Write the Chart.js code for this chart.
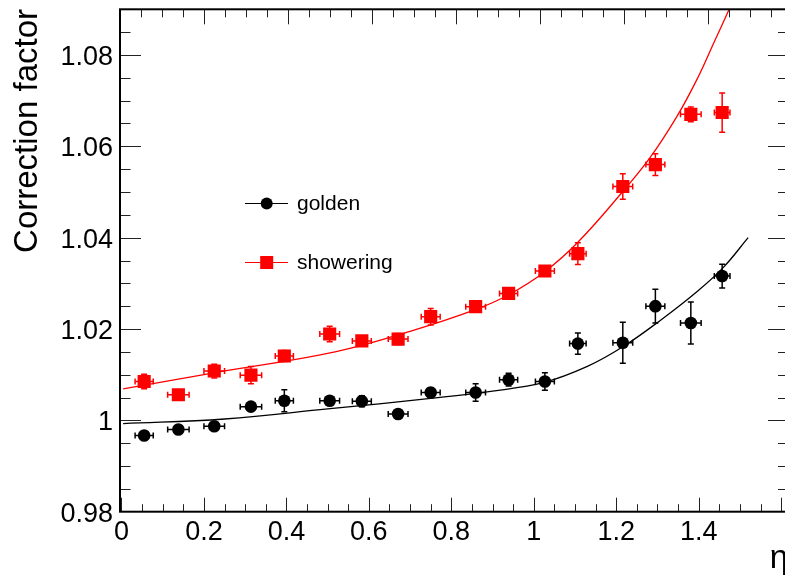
<!DOCTYPE html>
<html>
<head>
<meta charset="utf-8">
<script src="https://cdn.jsdelivr.net/npm/chart.js@4.4.1/dist/chart.umd.min.js"></script>
<style>
  html, body { margin: 0; padding: 0; background: #fff; overflow: hidden; }
  #wrap { position: relative; width: 800px; height: 576px; }
</style>
</head>
<body>
<div id="wrap"><canvas id="corrChart"></canvas></div>
<script>
// eta bin centres and half widths
const etaCenters = [0.055, 0.138, 0.225, 0.314, 0.395, 0.505, 0.583, 0.671, 0.750, 0.859, 0.939, 1.027, 1.107, 1.216, 1.295, 1.381, 1.457];
const etaHalfWidth = [0.022, 0.026, 0.025, 0.026, 0.022, 0.024, 0.023, 0.024, 0.023, 0.024, 0.022, 0.023, 0.020, 0.024, 0.023, 0.025, 0.019];

// golden electrons
const goldenVals = [0.9967, 0.9980, 0.9987, 1.0030, 1.0043, 1.0043, 1.0042, 1.0014, 1.0061, 1.0061, 1.0089, 1.0085, 1.0168, 1.0170, 1.0250, 1.0213, 1.0316];
const goldenErr = [0.0008, 0.0008, 0.0008, 0.0009, 0.0024, 0.0008, 0.0012, 0.0009, 0.0010, 0.0019, 0.0014, 0.0019, 0.0023, 0.0045, 0.0037, 0.0046, 0.0026];

// showering electrons
const showerVals = [1.0085, 1.0056, 1.0108, 1.0099, 1.0141, 1.0189, 1.0174, 1.0178, 1.0227, 1.0249, 1.0278, 1.0327, 1.0365, 1.0512, 1.0560, 1.0670, 1.0674];
const showerErr = [0.0016, 0.0008, 0.0015, 0.0019, 0.0012, 0.0017, 0.0010, 0.0012, 0.0018, 0.0012, 0.0008, 0.0011, 0.0024, 0.0028, 0.0024, 0.0016, 0.0043];

// fitted curves
const fitEtaGolden = [0.004, 0.25, 0.50, 0.75, 0.90, 1.025, 1.13, 1.216, 1.31, 1.40, 1.46, 1.52];
const fitGolden = [0.9993, 1.0003, 1.0025, 1.0048, 1.0064, 1.0083, 1.0118, 1.0161, 1.0221, 1.0285, 1.0335, 1.0400];
const fitEtaShower = [0.004, 0.224, 0.518, 0.70, 0.86, 0.939, 1.026, 1.107, 1.216, 1.282, 1.347, 1.395, 1.436, 1.474];
const fitShower = [1.0069, 1.0104, 1.0150, 1.0195, 1.0243, 1.0275, 1.0325, 1.0390, 1.0501, 1.0575, 1.0665, 1.0745, 1.0825, 1.0900];

const xTicks = [0, 0.2, 0.4, 0.6, 0.8, 1, 1.2, 1.4];
const yTicks = [0.98, 1, 1.02, 1.04, 1.06, 1.08];

const FONT = '"Liberation Sans", Arial, Helvetica, sans-serif';
const RED = '#ff0000';

const toPoints = (xs, ys) => xs.map((v, i) => ({ x: v, y: ys[i] }));
const fmt = v => String(Math.round(v * 100) / 100);

// ROOT style frame with inward ticks on all four sides
const frameTicks = {
  id: 'frameTicks',
  afterDraw(chart) {
    const { ctx, chartArea: a, scales } = chart;
    const sx = scales.x, sx2 = scales.x2, sy = scales.y;
    const snap = p => Math.round(p) + 0.5;
    ctx.save();
    ctx.strokeStyle = '#222';
    ctx.lineWidth = 1;
    ctx.beginPath();
    for (let i = 0; i <= 34; i++) {
      const v = i * 0.05;
      const major = i % 4 === 0;
      const pb = sx.getPixelForValue(v);
      if (pb >= a.left - 1 && pb <= a.right) {
        ctx.moveTo(snap(pb), a.bottom);
        ctx.lineTo(snap(pb), a.bottom - (major ? 14 : 7.5));
      }
      const pt = sx2.getPixelForValue(v);
      if (pt >= a.left - 1 && pt <= a.right) {
        ctx.moveTo(snap(pt), a.top);
        ctx.lineTo(snap(pt), a.top + (major ? 15 : 8));
      }
    }
    for (let i = 0; i <= 22; i++) {
      const v = 0.98 + i * 0.005;
      const major = i % 4 === 0;
      const py = snap(sy.getPixelForValue(v));
      if (py < a.top || py > a.bottom) continue;
      ctx.moveTo(a.left, py);
      ctx.lineTo(a.left + (major ? 21 : 10.5), py);
      ctx.moveTo(a.right, py);
      ctx.lineTo(a.right - (major ? 20 : 10), py);
    }
    ctx.stroke();

    ctx.strokeStyle = '#000';
    ctx.lineWidth = 2;
    ctx.strokeRect(a.left, a.top, a.right - a.left, a.bottom - a.top);

    // axis titles
    ctx.fillStyle = '#000';
    ctx.font = '33px ' + FONT;
    ctx.textAlign = 'right';
    ctx.textBaseline = 'alphabetic';
    ctx.save();
    ctx.translate(37, 9);
    ctx.rotate(-Math.PI / 2);
    ctx.fillText('Correction factor', 0, 0);
    ctx.restore();
    ctx.fillText('\u03B7', a.right, 568);

    // legend
    const entries = [
      { label: 'golden', color: '#000', style: 'circle', y: 203.5 },
      { label: 'showering', color: RED, style: 'rect', y: 262.5 }
    ];
    ctx.font = '21px ' + FONT;
    ctx.textAlign = 'left';
    ctx.textBaseline = 'middle';
    entries.forEach(e => {
      ctx.strokeStyle = e.color;
      ctx.lineWidth = 1.2;
      ctx.beginPath();
      ctx.moveTo(245, e.y);
      ctx.lineTo(288, e.y);
      ctx.stroke();
      ctx.fillStyle = e.color;
      if (e.style === 'circle') {
        ctx.beginPath();
        ctx.arc(266.7, e.y, 6, 0, Math.PI * 2);
        ctx.fill();
      } else {
        ctx.fillRect(266.7 - 6.5, e.y - 6.5, 13, 13);
      }
      ctx.fillStyle = '#000';
      ctx.fillText(e.label, 297, e.y + 1);
    });
    ctx.restore();
  }
};

// error bars with end caps, drawn below the markers
function drawErrors(ctx, sx, sy, ys, yErr, color) {
  ctx.strokeStyle = color;
  ctx.lineWidth = 1.5;
  ctx.beginPath();
  etaCenters.forEach((ex, i) => {
    const px = sx.getPixelForValue(ex);
    const py = sy.getPixelForValue(ys[i]);
    const xl = sx.getPixelForValue(ex - etaHalfWidth[i]);
    const xr = sx.getPixelForValue(ex + etaHalfWidth[i]);
    const yt = sy.getPixelForValue(ys[i] + yErr[i]);
    const yb = sy.getPixelForValue(ys[i] - yErr[i]);
    ctx.moveTo(xl, py); ctx.lineTo(xr, py);
    ctx.moveTo(xl, py - 3); ctx.lineTo(xl, py + 3);
    ctx.moveTo(xr, py - 3); ctx.lineTo(xr, py + 3);
    ctx.moveTo(px, yt); ctx.lineTo(px, yb);
    ctx.moveTo(px - 3, yt); ctx.lineTo(px + 3, yt);
    ctx.moveTo(px - 3, yb); ctx.lineTo(px + 3, yb);
  });
  ctx.stroke();
}

const errorBars = {
  id: 'errorBars',
  beforeDatasetsDraw(chart) {
    const { ctx, chartArea: a, scales } = chart;
    ctx.save();
    ctx.beginPath();
    ctx.rect(a.left, a.top, a.right - a.left, a.bottom - a.top);
    ctx.clip();
    drawErrors(ctx, scales.x, scales.y, goldenVals, goldenErr, '#000');
    drawErrors(ctx, scales.x, scales.y, showerVals, showerErr, RED);
    ctx.restore();
  }
};

// keep the frame exactly where the reference has it
const noPad = s => { s.paddingTop = 0; s.paddingBottom = 0; s.paddingLeft = 0; s.paddingRight = 0; };

const ctx = document.getElementById('corrChart').getContext('2d');
new Chart(ctx, {
  type: 'scatter',
  data: {
    datasets: [
      {
        label: 'golden',
        data: toPoints(etaCenters, goldenVals),
        pointStyle: 'circle',
        pointRadius: 6.3,
        backgroundColor: '#000',
        borderWidth: 0,
        showLine: false
      },
      {
        label: 'showering',
        data: toPoints(etaCenters, showerVals),
        pointStyle: 'rect',
        pointRadius: 9.3,
        backgroundColor: RED,
        borderWidth: 0,
        showLine: false
      },
      {
        label: 'golden fit',
        data: toPoints(fitEtaGolden, fitGolden),
        showLine: true,
        borderColor: '#000',
        borderWidth: 1.3,
        pointRadius: 0,
        tension: 0.4,
        fill: false
      },
      {
        label: 'showering fit',
        data: toPoints(fitEtaShower, fitShower),
        showLine: true,
        borderColor: RED,
        borderWidth: 1.3,
        pointRadius: 0,
        tension: 0.4,
        fill: false
      }
    ]
  },
  options: {
    responsive: true,
    maintainAspectRatio: false,
    animation: false,
    layout: { padding: { left: 0, top: 6.7, right: 12, bottom: 0 } },
    plugins: { legend: { display: false }, tooltip: { enabled: false } },
    scales: {
      x: {
        type: 'linear',
        position: 'bottom',
        min: -0.0036,
        max: 1.6167,
        afterBuildTicks: s => { s.ticks = xTicks.map(v => ({ value: v })); },
        afterFit: s => { s.height = 64.3; noPad(s); },
        grid: { display: false, drawTicks: false },
        border: { display: false },
        ticks: {
          autoSkip: false,
          maxRotation: 0,
          padding: 5,
          color: '#000',
          font: { family: FONT, size: 27 },
          callback: v => fmt(v)
        }
      },
      x2: {
        type: 'linear',
        position: 'top',
        display: false,
        min: 0,
        max: 1.5905
      },
      y: {
        type: 'linear',
        min: 0.98,
        max: 1.09,
        afterBuildTicks: s => { s.ticks = yTicks.map(v => ({ value: v })); },
        afterFit: s => { s.width = 120; noPad(s); },
        grid: { display: false, drawTicks: false },
        border: { display: false },
        ticks: {
          padding: 7,
          labelOffset: 2.5,
          color: '#000',
          font: { family: FONT, size: 27 },
          callback: v => fmt(v)
        }
      }
    }
  },
  plugins: [errorBars, frameTicks]
});
</script>
</body>
</html>
